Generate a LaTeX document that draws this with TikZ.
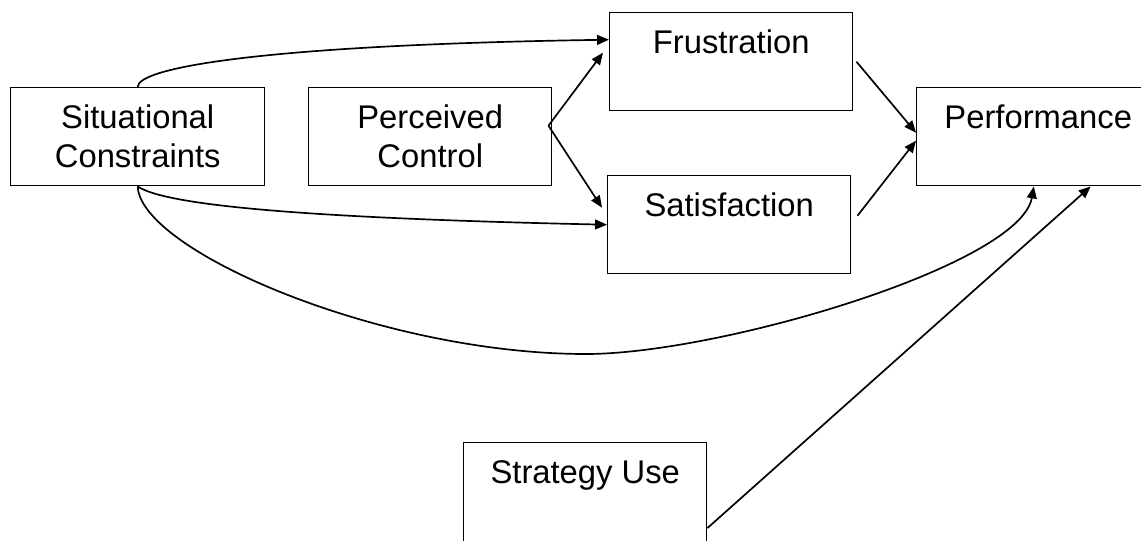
\documentclass[tikz,border=0pt]{standalone}
\usepackage{fontspec}
\setmainfont{Liberation Sans}
\usetikzlibrary{arrows.meta}

\begin{document}
\begin{tikzpicture}[x=0.025cm, y=-0.025cm,
  box/.style={draw, line width=1pt, rectangle, anchor=north west, inner sep=0pt,
    minimum width=6.075cm, font=\fontsize{23.3pt}{27.7pt}\selectfont},
  topbox/.style={box, text height=1.025cm, text depth=1.425cm},
  midbox/.style={box, minimum height=2.45cm, align=center},
  arr/.style={line width=1.2pt, -{Triangle[length=8.5pt,width=7pt]}}]

\useasboundingbox (0,0) rectangle (1141,540);

\node[midbox, minimum width=6.35cm] (sc) at (10,87) {Situational\\Constraints};
\node[midbox] (pc) at (308,87) {Perceived\\Control};
\node[topbox] (fr) at (609,12) {Frustration};
\node[topbox] (sa) at (607,175) {Satisfaction};
\node[topbox] (pf) at (916,87) {Performance};
\node[topbox, text depth=1.7cm] (su) at (463,442) {Strategy Use};

\draw[arr] (sc.north) .. controls (137,68) and (260,45) .. ([yshift=0.55cm]fr.west);
\draw[arr] (sc.south) .. controls (165,205) and (300,218) .. (sa.west);
\draw[arr] (sc.south) .. controls (140,250) and (380,354) .. (586,354)
  .. controls (720,354) and (1020,265) .. ([xshift=-0.11cm]pf.south);

\draw[arr] ([xshift=-0.1cm,yshift=0.275cm]pc.east) -- ([xshift=-0.15cm,yshift=0.225cm]fr.west);
\draw[arr] ([xshift=-0.1cm,yshift=0.275cm]pc.east) -- ([xshift=-0.125cm,yshift=0.425cm]sa.west);

\draw[arr] ([xshift=0.075cm]fr.east) -- ([yshift=0.1cm]pf.west);
\draw[arr] ([xshift=0.15cm,yshift=0.225cm]sa.east) -- ([yshift=-0.1cm]pf.west);
\draw[arr] ([yshift=-0.77cm]su.east) -- ([xshift=1.31cm]pf.south);

\end{tikzpicture}
\end{document}
